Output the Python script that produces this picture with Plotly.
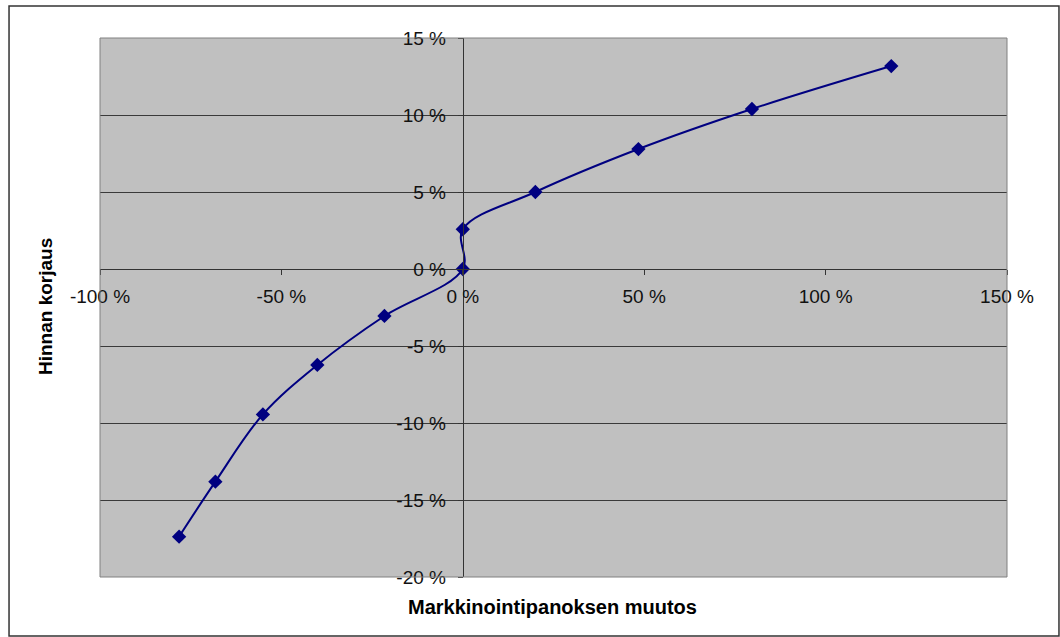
import plotly.graph_objects as go

# Change in marketing investment (%) and the resulting price correction (%)
markkinointi_muutos = [-78.2, -68.2, -55.1, -40.1, -21.6, 0.0, 0.0, 20.0, 48.4, 79.7, 118.1]
hinnan_korjaus = [-17.38, -13.81, -9.44, -6.23, -3.05, 0.0, 2.58, 5.0, 7.79, 10.39, 13.18]

x_tickvals = [-100, -50, 0, 50, 100, 150]
x_ticktext = ["-100 %", "-50 %", "0 %", "50 %", "100 %", "150 %"]
y_tickvals = [-20, -15, -10, -5, 0, 5, 10, 15]
y_ticktext = ["-20 %", "-15 %", "-10 %", "-5 %", "0 %", "5 %", "10 %", "15 %"]

x_range = [-100, 150]
y_range = [-20, 15]

navy = "#000080"
tick_font = dict(family="Liberation Sans, Arial, sans-serif", size=19, color="#111111")
title_font = dict(family="Liberation Sans, Arial, sans-serif", size=20, color="#000000")

fig = go.Figure()
fig.add_trace(go.Scatter(
    x=markkinointi_muutos,
    y=hinnan_korjaus,
    mode="lines+markers",
    line=dict(color=navy, width=2, shape="spline", smoothing=1),
    marker=dict(symbol="diamond", size=11, color=navy),
    showlegend=False,
    hoverinfo="x+y",
))

# axes cross at the origin, like a classic spreadsheet chart
x_pos = (0 - x_range[0]) / (x_range[1] - x_range[0])
y_pos = (0 - y_range[0]) / (y_range[1] - y_range[0])

fig.update_layout(
    width=1060,
    height=637,
    margin=dict(l=100, r=53, t=38, b=60),
    paper_bgcolor="white",
    plot_bgcolor="#C0C0C0",
    xaxis=dict(
        range=x_range,
        tickvals=x_tickvals,
        ticktext=x_ticktext,
        anchor="free",
        position=y_pos,
        showgrid=False,
        zeroline=False,
        showline=True,
        linecolor="#333333",
        linewidth=1,
        ticks="outside",
        ticklen=5,
        tickcolor="#333333",
        ticklabelstandoff=5,
        tickfont=tick_font,
    ),
    yaxis=dict(
        range=y_range,
        tickvals=y_tickvals,
        ticktext=y_ticktext,
        anchor="free",
        position=x_pos,
        showgrid=True,
        gridcolor="#3a3a3a",
        gridwidth=1,
        zeroline=False,
        showline=True,
        linecolor="#333333",
        linewidth=1,
        ticks="outside",
        ticklen=5,
        tickcolor="#333333",
        ticklabelstandoff=8,
        tickfont=tick_font,
    ),
    shapes=[
        # plot area frame
        dict(type="rect", xref="paper", yref="paper", x0=0, x1=1, y0=0, y1=1,
             line=dict(color="#808080", width=1), fillcolor="rgba(0,0,0,0)"),
        # chart frame
        dict(type="rect", xref="paper", yref="paper",
             x0=-0.1003, x1=1.0573, y0=-0.1095, y1=1.0594,
             line=dict(color="#333333", width=1.5), fillcolor="rgba(0,0,0,0)"),
    ],
    annotations=[
        dict(text="<b>Markkinointipanoksen muutos</b>", xref="paper", yref="paper",
             x=(552 - 100) / 907, y=(577 - 607) / 539, showarrow=False,
             xanchor="center", yanchor="middle", font=title_font),
        dict(text="<b>Hinnan korjaus</b>", xref="paper", yref="paper",
             x=(45 - 100) / 907, y=(577 - 307) / 539, showarrow=False, textangle=-90,
             xanchor="center", yanchor="middle", font=dict(title_font, size=19)),
    ],
)

fig.write_html("out.html")
